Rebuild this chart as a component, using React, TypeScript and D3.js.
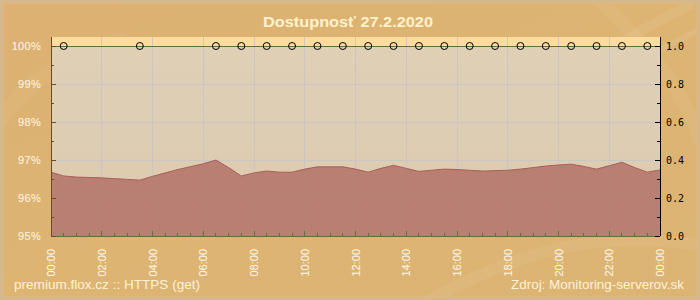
import React from "react";
import * as d3 from "d3";

const title = "Dostupnosť 27.2.2020";
const footerLeft = "premium.flox.cz :: HTTPS (get)";
const footerRight = "Zdroj: Monitoring-serverov.sk";

// time in hours from 00:00
const sampleHours = [0, 0.5, 1, 2, 3, 3.5, 4, 5, 6, 6.5, 7, 7.5, 8, 8.5, 9, 9.5, 10, 10.5, 11, 11.5, 12, 12.5, 13, 13.5, 14, 14.5, 15, 15.5, 16, 16.5, 17, 17.5, 18, 18.5, 19, 19.5, 20, 20.5, 21, 21.5, 22, 22.5, 23, 23.5, 24];
const responsePct = [96.68, 96.58, 96.55, 96.53, 96.49, 96.47, 96.57, 96.75, 96.9, 97.0, 96.8, 96.58, 96.66, 96.71, 96.68, 96.68, 96.76, 96.82, 96.82, 96.82, 96.76, 96.68, 96.78, 96.86, 96.78, 96.7, 96.73, 96.76, 96.75, 96.73, 96.71, 96.72, 96.73, 96.76, 96.8, 96.84, 96.87, 96.89, 96.83, 96.76, 96.85, 96.94, 96.8, 96.68, 96.74];

const markerHours = [0.5, 3.5, 6.5, 7.5, 8.5, 9.5, 10.5, 11.5, 12.5, 13.5, 14.5, 15.5, 16.5, 17.5, 18.5, 19.5, 20.5, 21.5, 22.5, 23.5];
const markerValues = [1, 1, 1, 1, 1, 1, 1, 1, 1, 1, 1, 1, 1, 1, 1, 1, 1, 1, 1, 1];

const xTickLabels = ["00:00", "02:00", "04:00", "06:00", "08:00", "10:00", "12:00", "14:00", "16:00", "18:00", "20:00", "22:00", "00:00"];
const leftTickValues = [95, 96, 97, 98, 99, 100];
const leftTickLabels = ["95%", "96%", "97%", "98%", "99%", "100%"];
const rightTickValues = [0, 0.2, 0.4, 0.6, 0.8, 1.0];
const rightTickLabels = ["0.0", "0.2", "0.4", "0.6", "0.8", "1.0"];

export default function App() {
  const W = 700, H = 300;
  const L = 51, R = 660, T = 37, B = 236;
  const x = d3.scaleLinear().domain([0, 24]).range([L, R]);
  const yL = d3.scaleLinear().domain([95, 100]).range([B, 46]);
  const yR = d3.scaleLinear().domain([0, 1]).range([B, 46]);

  const data = sampleHours.map((h, i) => ({ h, v: responsePct[i] }));
  const area = d3.area<{ h: number; v: number }>()
    .x((d) => x(d.h))
    .y0(B)
    .y1((d) => yL(d.v));
  const line = d3.line<{ h: number; v: number }>()
    .x((d) => x(d.h))
    .y((d) => yL(d.v));

  const minorX = d3.range(0, 24.001, 0.5);
  const majorX = d3.range(0, 24.001, 2);
  const minorL = d3.range(95, 100.001, 0.5);
  const minorR = d3.range(0, 1.0001, 0.1);

  const font = "'Liberation Sans', Arial, sans-serif";

  return (
    <svg width={W} height={H} style={{ position: "absolute", left: 0, top: 0 }} xmlns="http://www.w3.org/2000/svg">
      <defs>
        <linearGradient id="bg" x1="0" y1="0" x2="1" y2="1">
          <stop offset="0" stopColor="#dcb172" />
          <stop offset="0.5" stopColor="#ddb472" />
          <stop offset="1" stopColor="#dcb473" />
        </linearGradient>
        <linearGradient id="plotbg" x1="0" y1="0" x2="0" y2="1">
          <stop offset="0" stopColor="#dfd0b6" />
          <stop offset="1" stopColor="#dccaae" />
        </linearGradient>
      </defs>
      <rect x={0} y={0} width={W} height={H} fill="url(#bg)" />
      {/* decorative swirls */}
      <g fill="none" stroke="#fff" strokeLinecap="round">
        <path d="M470,110 C560,80 620,40 690,5" strokeWidth={10} opacity={0.07} />
        <path d="M520,120 C600,90 650,50 700,30" strokeWidth={6} opacity={0.08} />
        <path d="M600,0 C640,40 680,80 700,140" strokeWidth={14} opacity={0.05} />
        <path d="M430,300 C520,250 600,230 700,245" strokeWidth={12} opacity={0.06} />
        <path d="M0,120 C30,80 60,60 120,40" strokeWidth={16} opacity={0.04} />
      </g>
      <rect x={1.5} y={1.5} width={W - 3} height={H - 3} fill="none" stroke="#d5b98c" strokeWidth={3} />
      <rect x={3.5} y={3.5} width={W - 7} height={H - 7} fill="none" stroke="#e0bd80" strokeWidth={1} opacity={0.6} />

      {/* title */}
      <text x={348} y={27} textAnchor="middle" fill="#fff2cc" fontFamily={font} fontWeight="bold" fontSize={15} textLength={170} lengthAdjust="spacingAndGlyphs">{title}</text>

      {/* plot background */}
      <rect x={L} y={T} width={R - L} height={B - T} fill="url(#plotbg)" />
      <rect x={L} y={T} width={R - L} height={yL(100) - T} fill="#fedca0" />

      {/* grid */}
      <g stroke="#c9c6c8" strokeWidth={1} shapeRendering="crispEdges">
        {majorX.slice(1, -1).map((h) => (
          <line key={"gx" + h} x1={x(h)} x2={x(h)} y1={T} y2={B} />
        ))}
        {leftTickValues.slice(1, -1).map((v) => (
          <line key={"gy" + v} x1={L} x2={R} y1={yL(v)} y2={yL(v)} />
        ))}
      </g>

      {/* area */}
      <path d={area(data) ?? ""} fill="#b4786c" opacity={0.92} />
      <path d={line(data) ?? ""} fill="none" stroke="#aa5f58" strokeWidth={1} />

      {/* 100% line */}
      <line x1={L} x2={R} y1={yR(1)} y2={yR(1)} stroke="#5f7038" strokeWidth={1} shapeRendering="crispEdges" />
      {markerHours.map((h, i) => (
        <circle key={"m" + i} cx={x(h)} cy={yR(markerValues[i])} r={3.5} fill="none" stroke="#000" strokeWidth={1} />
      ))}

      {/* bottom axis */}
      <g stroke="#5f7038" strokeWidth={1} shapeRendering="crispEdges">
        <line x1={L} x2={R} y1={B} y2={B} />
        {minorX.map((h) => (
          <line key={"tx" + h} x1={x(h)} x2={x(h)} y1={B} y2={B - (h % 2 === 0 ? 5 : 3)} />
        ))}
      </g>
      {xTickLabels.map((t, i) => (
        <text key={"xl" + i} transform={`translate(${x(majorX[i]) + 4},249) rotate(-90)`} textAnchor="end" fill="#fff8e8" fontFamily={font} fontSize={11}>{t}</text>
      ))}

      {/* left axis */}
      <g stroke="#6b4b22" strokeWidth={1} shapeRendering="crispEdges">
        <line x1={L} x2={L} y1={T} y2={B} />
        {minorL.map((v) => (
          <line key={"tl" + v} x1={L} x2={L + (Math.abs(v - Math.round(v)) < 1e-6 ? 5 : 3)} y1={yL(v)} y2={yL(v)} />
        ))}
      </g>
      {leftTickValues.map((v, i) => (
        <text key={"ll" + i} x={41} y={yL(v) + 4} textAnchor="end" fill="#fff8e8" fontFamily={font} fontSize={11} letterSpacing={0.3}>{leftTickLabels[i]}</text>
      ))}

      {/* right axis */}
      <g stroke="#000" strokeWidth={1} shapeRendering="crispEdges">
        <line x1={R} x2={R} y1={T} y2={B} />
        {minorR.map((v, i) => (
          <line key={"tr" + i} x1={R} x2={R - (i % 2 === 0 ? 5 : 3)} y1={yR(v)} y2={yR(v)} />
        ))}
      </g>
      {rightTickValues.map((v, i) => (
        <text key={"rl" + i} x={666} y={yR(v) + 3.5} fill="#000" fontFamily="'DejaVu Sans Mono', monospace" fontSize={10}>{rightTickLabels[i]}</text>
      ))}

      {/* footer */}
      <text x={14} y={289} fill="#fff2d6" fontFamily={font} fontSize={13} textLength={186} lengthAdjust="spacingAndGlyphs">{footerLeft}</text>
      <text x={684} y={289} textAnchor="end" fill="#fff2d6" fontFamily={font} fontSize={13} textLength={173} lengthAdjust="spacingAndGlyphs">{footerRight}</text>
    </svg>
  );
}
